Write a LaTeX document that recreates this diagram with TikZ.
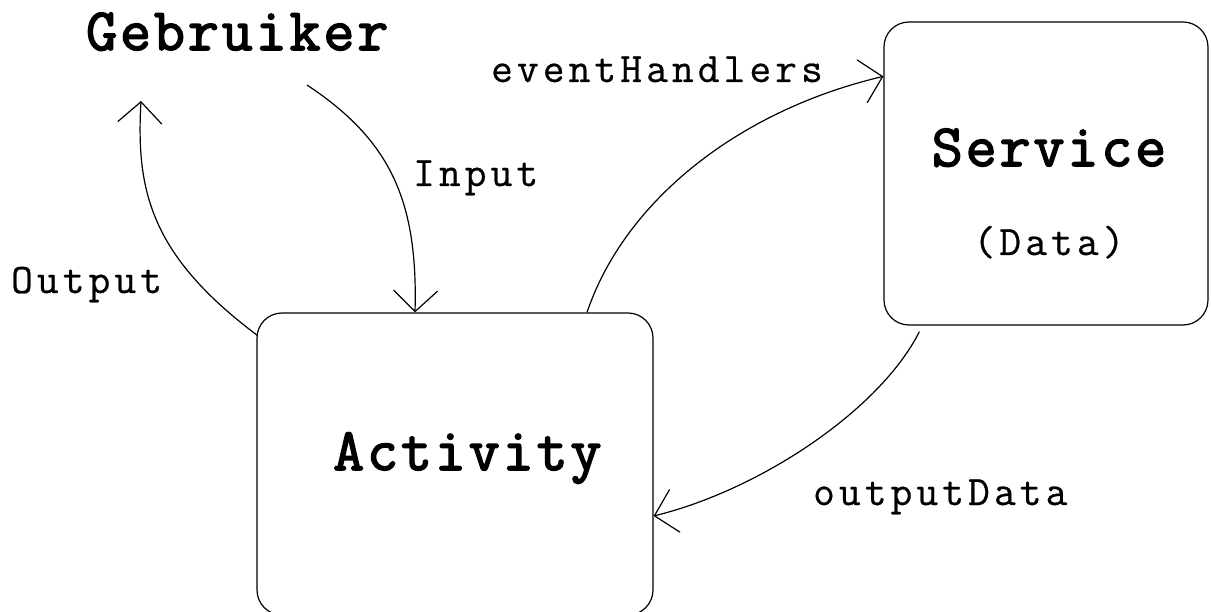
\documentclass[tikz,border=0pt]{standalone}
\usepackage{fontspec}
\usetikzlibrary{arrows.meta,calc}
\newfontfamily\lblfont[LetterSpace=10,FakeBold=0.6]{Latin Modern Mono}
\newfontfamily\ttlfont[LetterSpace=5,FakeBold=2.6]{Latin Modern Mono}

\tikzset{
  box/.style={draw, line width=1.2pt, rounded corners=25pt, inner sep=0pt},
  lbl/.style={inner sep=0pt, anchor=base west, font=\lblfont\fontsize{42}{46}\selectfont},
  ttl/.style={inner sep=0pt, anchor=base west, font=\ttlfont\fontsize{60}{64}\selectfont},
  flow/.style={line width=1.2pt, -{Straight Barb[length=21pt,width=44pt]}},
}

\begin{document}
\begin{tikzpicture}[x=1pt,y=-1pt]
\useasboundingbox (0,0) rectangle (1211,612);
\clip (0,0) rectangle (1211,612);

% the two components
\node[box, minimum width=396pt, minimum height=302pt] (act) at (455,464) {};
\node[box, minimum width=324pt, minimum height=303pt] (srv) at (1046,173.5) {};

% titles
\node[ttl] (geb) at (86,50) {Gebruiker};
\node[ttl, anchor=base] (srvname) at (1049,166) {Service};
\node[lbl, anchor=base] (srvdata) at (1049,255) {(Data)};
\node[ttl] (actname) at (333,470) {Activity};

% flow labels
\node[lbl] (inlbl) at (413,186) {Input};
\node[lbl] (outlbl) at (11,293) {Output};
\node[lbl] (evlbl) at (491,82) {eventHandlers};
\node[lbl] (odlbl) at (813,505) {outputData};

% user <-> activity
\draw[flow] ($(geb.base west)+(221,35)$) .. controls (390,140) and (418,200) .. ([xshift=-40pt]act.north);
\draw[flow] ($(act.north west)+(1,23)$) .. controls (150,255) and (136,190) .. ($(geb.base west)+(55,51)$);

% activity <-> service
\draw[flow] ([xshift=132pt]act.north) .. controls (625,200) and (740,110) .. ($(srv.north west)+(0,55)$);
\draw[flow] ($(srv.south west)+(36,6)$) .. controls (880,410) and (760,490) .. ($(act.east)+(0,52)$);
\end{tikzpicture}
\end{document}
